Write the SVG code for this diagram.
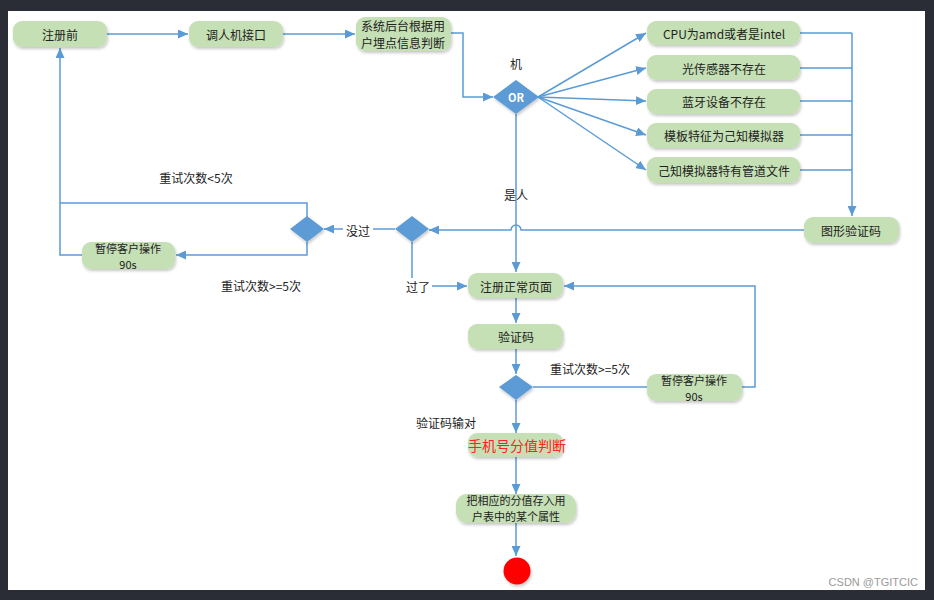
<svg xmlns="http://www.w3.org/2000/svg" width="934" height="600" viewBox="0 0 934 600">
<defs>
<style>
.box{fill:#c5e0b4;filter:url(#sh)}
.dia{fill:#5b9bd5;filter:url(#sh)}
.t{font-family:"Noto Sans CJK SC","Liberation Sans",sans-serif;font-size:12px;fill:#222;text-anchor:middle;dominant-baseline:central}
.s{font-size:11px}
.ln{fill:none;stroke:#5b9bd5;stroke-width:1.5}
.ar{marker-end:url(#ah)}
.lbl{fill:#fff}
</style>
<filter id="sh" x="-20%" y="-30%" width="140%" height="170%">
<feDropShadow dx="1" dy="2" stdDeviation="1.5" flood-color="#000" flood-opacity="0.22"/>
</filter>
<marker id="ah" markerUnits="userSpaceOnUse" markerWidth="11" markerHeight="9" refX="10" refY="4.5" orient="auto">
<path d="M0,0 L10,4.5 L0,9 z" fill="#5b9bd5"/>
</marker>
</defs>
<rect x="0" y="0" width="934" height="600" fill="#2a2d36"/>
<rect x="8" y="11" width="917" height="579" fill="#fff"/>

<g id="connectors">
<path class="ln ar" d="M107,34 H188"/>
<path class="ln ar" d="M283,34 H355"/>
<path class="ln ar" d="M451,33 H463 V97 H493"/>
<path class="ln ar" d="M538,97 L646,33"/>
<path class="ln ar" d="M538,97 L646,68"/>
<path class="ln ar" d="M538,97 L646,101"/>
<path class="ln ar" d="M538,97 L646,135"/>
<path class="ln ar" d="M538,97 L646,170"/>
<path class="ln" d="M800,33 H852 M800,68 H852 M800,101 H852 M800,135 H852 M800,170 H852"/>
<path class="ln ar" d="M852,33 V216"/>
<path class="ln ar" d="M804,230 H521 A5,5 0 0 0 511,230 H429"/>
<path class="ln ar" d="M516,114 V272"/>
<path class="ln ar" d="M395,229 H324"/>
<path class="ln" d="M307,217 V203 H60"/>
<path class="ln ar" d="M82,255 H60 V48"/>
<path class="ln ar" d="M307,242 V255 H176"/>
<path class="ln ar" d="M412,242 V286 H467"/>
<path class="ln ar" d="M516,298 V323"/>
<path class="ln ar" d="M516,349 V374"/>
<path class="ln" d="M533,387 H647"/>
<path class="ln ar" d="M742,387 H755 V286 H564"/>
<path class="ln ar" d="M516,400 V433"/>
<path class="ln ar" d="M516,457 V494"/>
<path class="ln ar" d="M516,523 V556"/>
<rect class="lbl" x="343" y="221" width="30" height="16"/>
<text class="t" x="358" y="230">没过</text>
<rect class="lbl" x="405" y="278" width="27" height="16"/>
<text class="t" x="418" y="286">过了</text>
<text class="t" x="516" y="63">机</text>
<text class="t" x="516" y="194">是人</text>
<text class="t" x="196" y="177">重试次数&lt;5次</text>
<text class="t" x="261" y="285">重试次数&gt;=5次</text>
<text class="t" x="590" y="368">重试次数&gt;=5次</text>
<text class="t" x="446" y="422">验证码输对</text>
</g>

<g id="n1"><rect class="box" x="13" y="21" width="94" height="26" rx="9"/><text class="t" x="60" y="34">注册前</text></g>
<g id="n2"><rect class="box" x="189" y="21" width="94" height="26" rx="9"/><text class="t" x="236" y="34">调人机接口</text></g>
<g id="n3"><rect class="box" x="356" y="17" width="95" height="34" rx="9"/><text class="t" x="403" y="25">系统后台根据用<tspan x="403" dy="17">户埋点信息判断</tspan></text></g>
<g id="or"><path class="dia" d="M516,80 L539,97 L516,114 L493,97 z"/><text class="t" x="516" y="97" style="fill:#fff;font-size:11px;font-weight:bold">OR</text></g>
<g id="c1"><rect class="box" x="647" y="21" width="153" height="24" rx="9"/><text class="t" x="724" y="33">CPU为amd或者是intel</text></g>
<g id="c2"><rect class="box" x="647" y="55" width="153" height="25" rx="9"/><text class="t" x="724" y="68">光传感器不存在</text></g>
<g id="c3"><rect class="box" x="647" y="89" width="153" height="25" rx="9"/><text class="t" x="724" y="101">蓝牙设备不存在</text></g>
<g id="c4"><rect class="box" x="647" y="123" width="153" height="25" rx="9"/><text class="t" x="724" y="135">模板特征为己知模拟器</text></g>
<g id="c5"><rect class="box" x="647" y="157" width="153" height="26" rx="9"/><text class="t" x="724" y="170">己知模拟器特有管道文件</text></g>
<g id="captcha"><rect class="box" x="804" y="217" width="95" height="26" rx="9"/><text class="t" x="851" y="230">图形验证码</text></g>
<g id="d2"><path class="dia" d="M412,216 L429,229 L412,242 L395,229 z"/></g>
<g id="d1"><path class="dia" d="M307,216 L324,229 L307,242 L290,229 z"/></g>
<g id="pause1"><rect class="box" x="82" y="242" width="93" height="27" rx="9"/><text class="t s" x="128" y="248">暂停客户操作<tspan x="128" dy="16">90s</tspan></text></g>
<g id="normal"><rect class="box" x="468" y="273" width="95" height="25" rx="9"/><text class="t" x="516" y="286">注册正常页面</text></g>
<g id="verify"><rect class="box" x="468" y="324" width="95" height="25" rx="9"/><text class="t" x="516" y="336">验证码</text></g>
<g id="d3"><path class="dia" d="M516,375 L533,387 L516,400 L499,387 z"/></g>
<g id="pause2"><rect class="box" x="647" y="374" width="95" height="27" rx="9"/><text class="t s" x="694" y="380">暂停客户操作<tspan x="694" dy="16">90s</tspan></text></g>
<g id="score"><rect class="box" x="468" y="433" width="95" height="24" rx="9"/><text class="t" x="517" y="445" style="fill:#ff2020;font-size:14px">手机号分值判断</text></g>
<g id="store"><rect class="box" x="456" y="494" width="120" height="29" rx="11"/><text class="t s" x="516" y="500">把相应的分值存入用<tspan x="516" dy="16">户表中的某个属性</tspan></text></g>
<g id="end"><circle cx="517" cy="571" r="13.5" fill="#ff0000" filter="url(#sh)"/></g>
<text x="918" y="586" style="font-family:'Liberation Sans',sans-serif;font-size:11px;fill:#999;text-anchor:end">CSDN @TGITCIC</text>
</svg>
